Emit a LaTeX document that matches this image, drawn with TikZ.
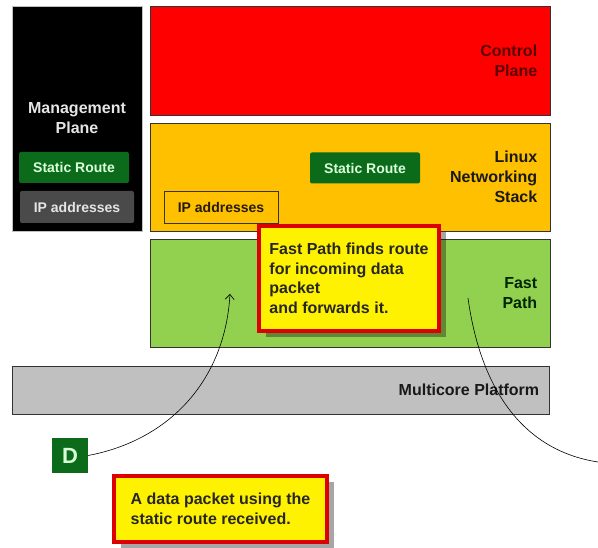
\documentclass[tikz,border=0pt]{standalone}
\usepackage{fontspec}
\setmainfont{Liberation Sans}
\usetikzlibrary{positioning,shadows,arrows.meta}
\definecolor{ctrlred}{HTML}{FF0000}
\definecolor{ctrltext}{HTML}{5C0000}
\definecolor{linuxorange}{HTML}{FFC000}
\definecolor{fastgreen}{HTML}{92D050}
\definecolor{coregrey}{HTML}{C0C0C0}
\definecolor{routegreen}{HTML}{0B6B1B}
\definecolor{ipgrey}{HTML}{4A4A4A}
\definecolor{calloutred}{HTML}{DD0000}

\begin{document}
\begin{tikzpicture}[x=1pt,y=-1pt,>={Straight Barb[length=5pt,width=9pt]},
    plane/.style={draw=black!80,line width=0.8pt,inner sep=0pt},
    side text/.style={font=\bfseries\fontsize{16}{20}\selectfont,align=right,inner sep=0pt},
    tag/.style={fill=routegreen,text=white!85!green,font=\bfseries\fontsize{14}{16}\selectfont,
                minimum width=110pt,minimum height=31pt,inner sep=0pt,rounded corners=2pt},
    callout/.style={draw=calloutred,line width=4pt,fill=yellow,text=black!85,
                    font=\bfseries\fontsize{16}{19.5}\selectfont,align=left,inner sep=0pt,
                    drop shadow={shadow xshift=7pt,shadow yshift=-6pt,fill=black,opacity=.35}}]
\useasboundingbox (0,0) rectangle (598,548);

% management plane on the left
\node[plane,fill=black,draw=gray!50,minimum width=130pt,minimum height=225pt] (mgmt) at (77,118.5) {};
\node[text=white!90!black,font=\bfseries\fontsize{16}{20}\selectfont,align=center] (mgmt text) at (77,118) {Management\\Plane};
\node[tag] (mgmt route) at (74,167.5) {Static Route};
\node[tag,fill=ipgrey,text=white!90!black,minimum width=114pt,minimum height=32pt] (mgmt ip) at (77,207) {IP addresses};

% the stacked planes
\node[plane,fill=ctrlred,minimum width=400pt,minimum height=109pt] (ctrl) at (350,60.5) {};
\node[side text,text=ctrltext,left=13pt of ctrl.east] (ctrl text) {Control\\Plane};

\node[plane,fill=linuxorange,minimum width=400pt,minimum height=108pt] (linux) at (350,177) {};
\node[side text,text=black!90,left=13pt of linux.east] (linux text) {Linux\\Networking\\Stack};
\node[tag] (linux route) at (365,168) {Static Route};
\node[plane,fill=linuxorange,text=black!80!brown,font=\bfseries\fontsize{14}{16}\selectfont,
      minimum width=114pt,minimum height=32pt] (linux ip) at (221,207) {IP addresses};

\node[plane,fill=fastgreen,minimum width=400pt,minimum height=108pt] (fast) at (350,293) {};
\node[side text,text=black!85!green,left=13pt of fast.east] (fast text) {Fast\\Path};

\node[plane,fill=coregrey,minimum width=537pt,minimum height=48pt] (core) at (280.5,390) {};
\node[side text,text=black!90,left=10pt of core.east] (core text) {Multicore Platform};

% packet and its path
\node[fill=routegreen,text=white!85!green,font=\bfseries\fontsize{22}{22}\selectfont,
      minimum width=36pt,minimum height=35pt,inner sep=0pt] (pkt) at (70,455.5) {D};
\coordinate (fast in) at (230,294);
\coordinate (fast out) at (468,298);
\coordinate (exit) at (598,462);

\draw[->,semithick] (pkt.east) .. controls (170,440) and (225,380) .. (fast in);
\draw[semithick] (fast out) .. controls (480,385) and (520,450) .. (exit);

% notes
\node[callout,minimum width=180pt,minimum height=105pt] (fast note) at (349,278.5)
  {Fast Path finds route\\for incoming data\\packet\\and forwards it.};
\node[callout,minimum width=213pt,minimum height=66pt] (recv note) at (220.5,509)
  {A data packet using the\\static route received.};

\end{tikzpicture}
\end{document}
